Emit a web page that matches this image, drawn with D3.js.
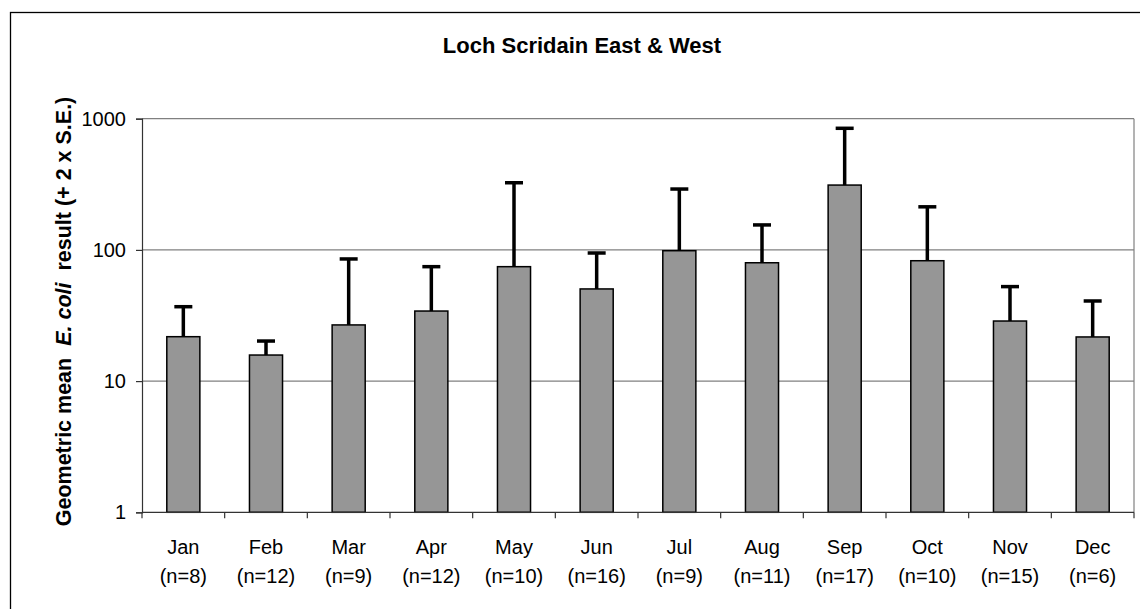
<!DOCTYPE html>
<html>
<head>
<meta charset="utf-8">
<script src="https://cdn.jsdelivr.net/npm/d3@7"></script>
<style>
  body { margin: 0; background: #fff; }
  svg { display: block; font-family: Arial, "Liberation Sans", sans-serif; }
</style>
</head>
<body>
<div id="chart"></div>
<script>
const months = ["Jan", "Feb", "Mar", "Apr", "May", "Jun", "Jul", "Aug", "Sep", "Oct", "Nov", "Dec"];
const counts = [8, 12, 9, 12, 10, 16, 9, 11, 17, 10, 15, 6];
const geoMeans = [21.8, 15.8, 26.8, 34.2, 74.5, 50.4, 98.6, 79.8, 312, 82.7, 28.7, 21.7];
const upperErr = [36.9, 20.2, 85.3, 74.5, 325, 94.7, 291, 155, 845, 213, 52.5, 40.8];
const yTicks = [1, 10, 100, 1000];

const width = 1140, height = 609;
const plot = { left: 142, right: 1134, top: 118.7, bottom: 512.3 };

const svg = d3.select("#chart").append("svg")
    .attr("width", width)
    .attr("height", height);

// outer chart border (runs off the picture on the right and bottom)
svg.append("rect")
    .attr("x", 10.5).attr("y", 12.5)
    .attr("width", 1160).attr("height", 640)
    .attr("fill", "none").attr("stroke", "#000").attr("stroke-width", 1.3);

const x = d3.scaleBand()
    .domain(months)
    .range([plot.left, plot.right])
    .paddingInner(0.6)
    .paddingOuter(0.3);

const y = d3.scaleLog()
    .domain([1, 1000])
    .range([plot.bottom, plot.top]);

// gridlines
svg.append("g")
    .selectAll("line")
    .data(yTicks.slice(1))
    .join("line")
    .attr("x1", plot.left).attr("x2", plot.right)
    .attr("y1", d => y(d)).attr("y2", d => y(d))
    .attr("stroke", "#808080").attr("stroke-width", 1.2);

// right border of plot area
svg.append("line")
    .attr("x1", plot.right).attr("x2", plot.right)
    .attr("y1", plot.top).attr("y2", plot.bottom)
    .attr("stroke", "#808080").attr("stroke-width", 1.2);

// y axis
const yAxis = svg.append("g")
    .attr("transform", `translate(${plot.left},0)`)
    .call(d3.axisLeft(y).tickValues(yTicks).tickFormat(d3.format("d")).tickSize(6).tickPadding(10));
yAxis.select(".domain").attr("stroke", "#333").attr("stroke-width", 1.2);
yAxis.selectAll(".tick line").attr("stroke", "#333").attr("stroke-width", 1.2);
yAxis.selectAll(".tick text").attr("font-size", 20).attr("fill", "#000")
    .attr("font-family", "Arial, 'Liberation Sans', sans-serif");

// bars
svg.append("g")
    .selectAll("rect")
    .data(months)
    .join("rect")
    .attr("x", d => x(d))
    .attr("width", x.bandwidth())
    .attr("y", (d, i) => y(geoMeans[i]))
    .attr("height", (d, i) => y(1) - y(geoMeans[i]))
    .attr("fill", "#969696")
    .attr("stroke", "#000")
    .attr("stroke-width", 1.5);

// error bars (+2 x S.E.)
const err = svg.append("g").attr("stroke", "#000").attr("stroke-width", 3.5);
err.selectAll("line.stem")
    .data(months)
    .join("line")
    .attr("class", "stem")
    .attr("x1", d => x(d) + x.bandwidth() / 2)
    .attr("x2", d => x(d) + x.bandwidth() / 2)
    .attr("y1", (d, i) => y(geoMeans[i]))
    .attr("y2", (d, i) => y(upperErr[i]));
err.selectAll("line.cap")
    .data(months)
    .join("line")
    .attr("class", "cap")
    .attr("x1", d => x(d) + x.bandwidth() / 2 - 9)
    .attr("x2", d => x(d) + x.bandwidth() / 2 + 9)
    .attr("y1", (d, i) => y(upperErr[i]))
    .attr("y2", (d, i) => y(upperErr[i]));

// x axis
const xAxis = svg.append("g")
    .attr("transform", `translate(0,${plot.bottom})`);
xAxis.append("line")
    .attr("x1", plot.left).attr("x2", plot.right)
    .attr("stroke", "#333").attr("stroke-width", 1.2);
const step = x.step();
xAxis.selectAll("line.tick")
    .data(d3.range(months.length + 1))
    .join("line")
    .attr("class", "tick")
    .attr("x1", i => plot.left + i * step)
    .attr("x2", i => plot.left + i * step)
    .attr("y1", 0).attr("y2", 6)
    .attr("stroke", "#333").attr("stroke-width", 1.2);

const labels = xAxis.selectAll("text")
    .data(months)
    .join("text")
    .attr("text-anchor", "middle")
    .attr("font-size", 20)
    .attr("fill", "#000");
labels.append("tspan")
    .attr("x", d => x(d) + x.bandwidth() / 2)
    .attr("y", 42)
    .text(d => d);
labels.append("tspan")
    .attr("x", d => x(d) + x.bandwidth() / 2)
    .attr("y", 71)
    .text((d, i) => `(n=${counts[i]})`);

// title
svg.append("text")
    .attr("x", 582).attr("y", 53)
    .attr("text-anchor", "middle")
    .attr("font-size", 22)
    .attr("font-weight", "bold")
    .text("Loch Scridain East & West");

// y axis title
const yTitle = svg.append("text")
    .attr("transform", `translate(71,${(plot.top + plot.bottom) / 2 - 4}) rotate(-90)`)
    .attr("text-anchor", "middle")
    .attr("font-size", 21.5)
    .attr("font-weight", "bold")
    .attr("xml:space", "preserve");
yTitle.append("tspan").text("Geometric mean  ");
yTitle.append("tspan").attr("font-style", "italic").text("E. coli");
yTitle.append("tspan").text("  result (+ 2 x S.E.)");
</script>
</body>
</html>
